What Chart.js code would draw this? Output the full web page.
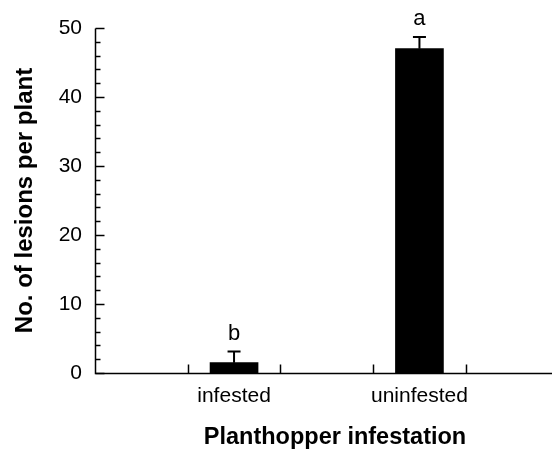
<!DOCTYPE html>
<html>
<head>
<meta charset="utf-8">
<script src="https://cdn.jsdelivr.net/npm/chart.js@4"></script>
<style>
  html, body { margin: 0; padding: 0; background: #fff; overflow: hidden; }
  canvas { display: block; }
</style>
</head>
<body>
<canvas id="canvas" width="552" height="449"></canvas>
<script>
const categories = ['infested', 'uninfested']
const positions = [1.5, 3.5]
const means = [1.5, 47.0]
const errors = [1.6, 1.7]
const letters = ['b', 'a']
const yTicks = [0, 10, 20, 30, 40, 50]

const FONT = '"Liberation Sans", Arial, Helvetica, sans-serif'

// axis lines, inward tick marks, error bars, letters and x title
const extras = {
    id: 'extras',
    afterDatasetsDraw(chart) {
        const ctx = chart.ctx
        const x = chart.scales.x
        const y = chart.scales.y
        const area = chart.chartArea
        ctx.save()
        ctx.strokeStyle = '#000'
        ctx.fillStyle = '#000'
        ctx.lineWidth = 1.5

        const y0 = Math.round(y.getPixelForValue(0)) + 0.5
        const yTop = Math.round(y.getPixelForValue(50)) + 0.5
        const xl = Math.round(area.left) + 0.5
        ctx.beginPath()
        ctx.moveTo(xl, yTop)
        ctx.lineTo(xl, y0)
        ctx.lineTo(chart.width, y0)
        ctx.stroke()

        // y ticks: major every 10, minor every 2
        for (let v = 0; v <= 50; v += 2) {
            const py = Math.round(y.getPixelForValue(v)) + 0.5
            const len = v % 10 === 0 ? 9 : 5
            ctx.beginPath()
            ctx.moveTo(xl, py)
            ctx.lineTo(xl + len, py)
            ctx.stroke()
        }
        // x ticks at integer positions
        for (let v = 1; v <= 4; v++) {
            const px = Math.round(x.getPixelForValue(v)) + 0.5
            ctx.beginPath()
            ctx.moveTo(px, y0)
            ctx.lineTo(px, y0 - 9)
            ctx.stroke()
        }

        // error bars + letters
        ctx.lineWidth = 2
        ctx.font = '22px ' + FONT
        ctx.textAlign = 'center'
        ctx.textBaseline = 'alphabetic'
        for (let i = 0; i < means.length; i++) {
            const px = x.getPixelForValue(positions[i])
            const top = y.getPixelForValue(means[i])
            const et = y.getPixelForValue(means[i] + errors[i])
            ctx.beginPath()
            ctx.moveTo(px, top)
            ctx.lineTo(px, et)
            ctx.moveTo(px - 6.5, et)
            ctx.lineTo(px + 6.5, et)
            ctx.stroke()
            ctx.fillText(letters[i], px, et - 12)
        }

        ctx.font = 'bold 23.5px ' + FONT
        ctx.fillText('Planthopper infestation', 335, 444)
        ctx.restore()
    }
}

const data = {
    datasets: [{
        data: positions.map((p, i) => ({ x: p, y: means[i] })),
        backgroundColor: '#000',
        borderWidth: 0,
        barThickness: 48,
    }]
}

const config = {
    type: 'bar',
    data: data,
    options: {
        responsive: false,
        animation: false,
        layout: { padding: { top: 28, right: 0, left: 0, bottom: 0 } },
        plugins: { legend: { display: false }, tooltip: { enabled: false } },
        scales: {
            x: {
                type: 'linear',
                offset: false,
                min: 0,
                max: 4.93,
                grid: { display: false, drawTicks: false },
                border: { display: false },
                afterBuildTicks: s => { s.ticks = positions.map(v => ({ value: v })) },
                afterFit: s => { s.height = 76 },
                ticks: {
                    padding: 11,
                    color: '#000',
                    font: { family: FONT, size: 21 },
                    callback: v => categories[positions.indexOf(v)],
                },
            },
            y: {
                min: 0,
                max: 50,
                grid: { display: false, drawTicks: false },
                border: { display: false },
                afterBuildTicks: s => { s.ticks = yTicks.map(v => ({ value: v })) },
                afterFit: s => { s.width = 95 },
                ticks: {
                    padding: 13,
                    color: '#000',
                    font: { family: FONT, size: 21 },
                },
                title: {
                    display: true,
                    text: 'No. of lesions per plant',
                    color: '#000',
                    font: { family: FONT, size: 24, weight: 'bold' },
                    padding: { top: 11, bottom: 8 },
                },
            },
        },
    },
    plugins: [extras],
}

const canvas = document.getElementById('canvas')
const chart = new Chart(canvas, config)
</script>
</body>
</html>
